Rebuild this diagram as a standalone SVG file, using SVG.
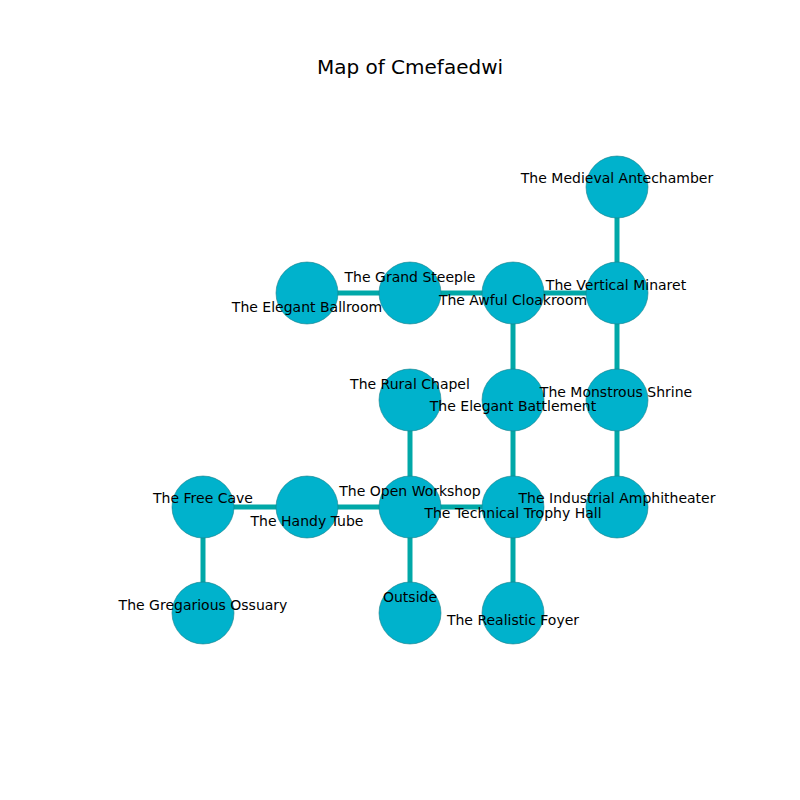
<svg xmlns="http://www.w3.org/2000/svg" width="800" height="800" viewBox="0 0 800 800">
<style>
.e{stroke:#00a8a8;stroke-width:5;fill:none}
.n circle{fill:#00b2cc;stroke:#1a7f8a;stroke-width:0.6}
.n text{font-family:"DejaVu Sans",sans-serif;font-size:14px;fill:#000;text-anchor:middle;dominant-baseline:central}
.t{font-family:"DejaVu Sans",sans-serif;font-size:20px;text-anchor:middle}
</style>
<rect width="800" height="800" fill="#fff"/>
<text class="t" x="410" y="74">Map of Cmefaedwi</text>
<g id="edges">
<line class="e" x1="617" y1="187" x2="617" y2="293"/>
<line class="e" x1="617" y1="293" x2="617" y2="400"/>
<line class="e" x1="617" y1="400" x2="617" y2="507"/>
<line class="e" x1="617" y1="293" x2="513" y2="293"/>
<line class="e" x1="513" y1="293" x2="410" y2="293"/>
<line class="e" x1="410" y1="293" x2="307" y2="293"/>
<line class="e" x1="513" y1="293" x2="513" y2="400"/>
<line class="e" x1="513" y1="400" x2="513" y2="507"/>
<line class="e" x1="513" y1="507" x2="513" y2="613"/>
<line class="e" x1="513" y1="507" x2="410" y2="507"/>
<line class="e" x1="410" y1="507" x2="410" y2="400"/>
<line class="e" x1="410" y1="507" x2="410" y2="613"/>
<line class="e" x1="410" y1="507" x2="307" y2="507"/>
<line class="e" x1="307" y1="507" x2="203" y2="507"/>
<line class="e" x1="203" y1="507" x2="203" y2="613"/>
</g>
<g id="n1" class="n"><circle cx="617" cy="187" r="31"/></g>
<g id="n2" class="n"><circle cx="617" cy="293" r="31"/></g>
<g id="n3" class="n"><circle cx="617" cy="400" r="31"/></g>
<g id="n4" class="n"><circle cx="617" cy="507" r="31"/></g>
<g id="n5" class="n"><circle cx="513" cy="293" r="31"/></g>
<g id="n6" class="n"><circle cx="513" cy="400" r="31"/></g>
<g id="n7" class="n"><circle cx="513" cy="507" r="31"/></g>
<g id="n8" class="n"><circle cx="513" cy="613" r="31"/></g>
<g id="n9" class="n"><circle cx="410" cy="293" r="31"/></g>
<g id="n10" class="n"><circle cx="307" cy="293" r="31"/></g>
<g id="n11" class="n"><circle cx="410" cy="400" r="31"/></g>
<g id="n12" class="n"><circle cx="410" cy="507" r="31"/></g>
<g id="n13" class="n"><circle cx="410" cy="613" r="31"/></g>
<g id="n14" class="n"><circle cx="307" cy="507" r="31"/></g>
<g id="n15" class="n"><circle cx="203" cy="507" r="31"/></g>
<g id="n16" class="n"><circle cx="203" cy="613" r="31"/></g>
<g id="labels" class="n">
<text x="617" y="178">The Medieval Antechamber</text>
<text x="616" y="285">The Vertical Minaret</text>
<text x="616" y="392">The Monstrous Shrine</text>
<text x="617" y="498">The Industrial Amphitheater</text>
<text x="513" y="300">The Awful Cloakroom</text>
<text x="513" y="406">The Elegant Battlement</text>
<text x="513" y="513">The Technical Trophy Hall</text>
<text x="513" y="620">The Realistic Foyer</text>
<text x="410" y="277">The Grand Steeple</text>
<text x="307" y="307">The Elegant Ballroom</text>
<text x="410" y="384">The Rural Chapel</text>
<text x="410" y="491">The Open Workshop</text>
<text x="410" y="597">Outside</text>
<text x="307" y="521">The Handy Tube</text>
<text x="203" y="498">The Free Cave</text>
<text x="203" y="605">The Gregarious Ossuary</text>
</g>
</svg>
